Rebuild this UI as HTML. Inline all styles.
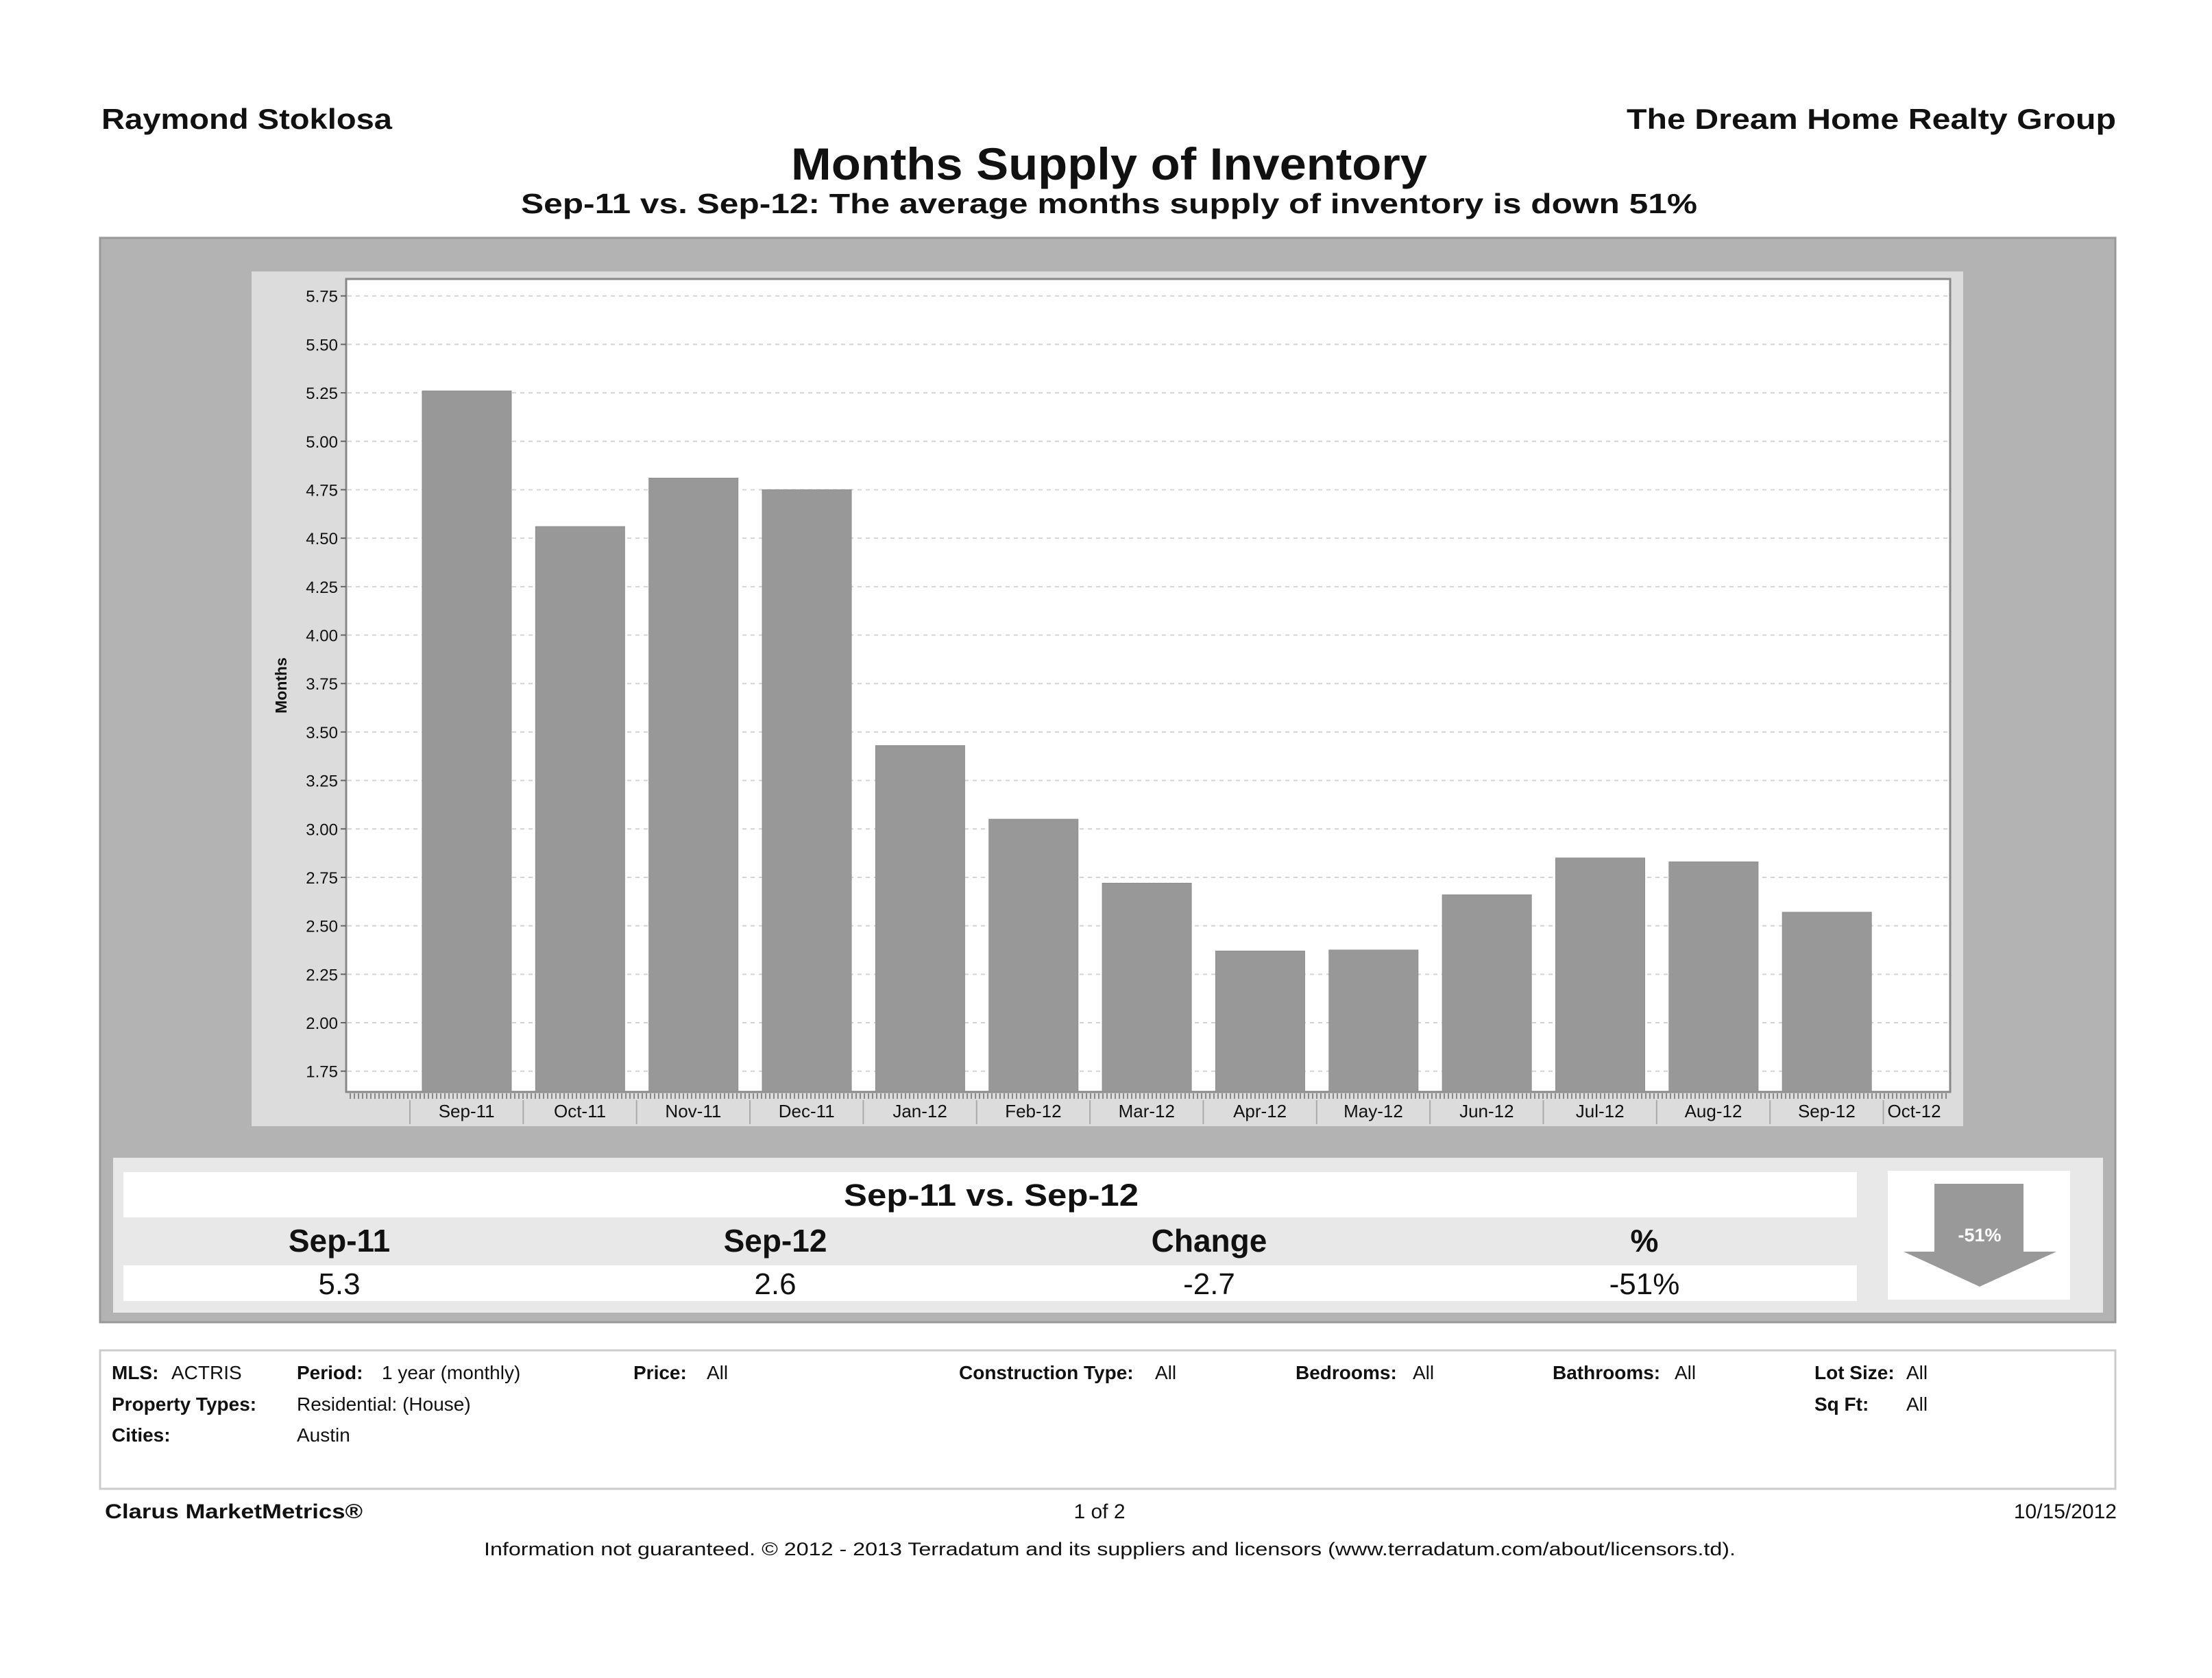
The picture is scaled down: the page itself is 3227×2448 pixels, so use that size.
<!DOCTYPE html>
<html><head><meta charset="utf-8"><style>
html,body{margin:0;padding:0;background:#fff;}
svg{display:block;font-family:"Liberation Sans",sans-serif;}
</style></head><body>
<svg id="page" width="3227" height="2448" viewBox="0 0 3227 2448" xmlns="http://www.w3.org/2000/svg">
<defs>
<pattern id="minor" x="0" y="0" width="6" height="10" patternUnits="userSpaceOnUse"><rect x="0" y="0" width="2" height="10" fill="#888"/></pattern>
</defs>
<text x="148" y="188" font-size="42" font-weight="bold" fill="#111" textLength="424" lengthAdjust="spacingAndGlyphs">Raymond Stoklosa</text>
<text x="2373" y="188" font-size="42" font-weight="bold" fill="#111" textLength="714" lengthAdjust="spacingAndGlyphs">The Dream Home Realty Group</text>
<text x="1154" y="262" font-size="66" font-weight="bold" fill="#111" textLength="928" lengthAdjust="spacingAndGlyphs">Months Supply of Inventory</text>
<text x="760" y="311" font-size="41" font-weight="bold" fill="#111" textLength="1716" lengthAdjust="spacingAndGlyphs">Sep-11 vs. Sep-12:  The average months supply of inventory is down 51%</text>

<rect x="146" y="347" width="2940" height="1582" fill="#b3b3b3" stroke="#999" stroke-width="3"/>
<rect x="367" y="396" width="2497" height="1247" fill="#dcdcdc"/>
<rect x="505" y="407" width="2340" height="1186" fill="#fff" stroke="#888" stroke-width="3"/>
<g id="grid"></g>
<g id="bars"></g>
<rect x="507" y="1595" width="2336" height="8" fill="url(#minor)"/>
<g id="yticks"></g>
<g id="xticks"></g>
<text transform="translate(418,1000) rotate(-90)" font-size="23" font-weight="bold" text-anchor="middle" fill="#111">Months</text>

<rect x="165" y="1689" width="2903" height="226" fill="#e8e8e8"/>
<rect x="180" y="1710" width="2529" height="66" fill="#fff"/>
<rect x="180" y="1846" width="2529" height="52" fill="#fff"/>
<text x="1231" y="1759" font-size="45" font-weight="bold" fill="#111" textLength="430" lengthAdjust="spacingAndGlyphs">Sep-11 vs. Sep-12</text>
<g font-size="46" font-weight="bold" text-anchor="middle" fill="#111">
<text x="495" y="1826">Sep-11</text>
<text x="1131" y="1826">Sep-12</text>
<text x="1764" y="1826">Change</text>
<text x="2399" y="1826">%</text>
</g>
<g font-size="44" text-anchor="middle" fill="#111">
<text x="495" y="1888">5.3</text>
<text x="1131" y="1888">2.6</text>
<text x="1764" y="1888">-2.7</text>
<text x="2399" y="1888">-51%</text>
</g>
<rect x="2754" y="1708" width="266" height="188" fill="#fff"/>
<polygon points="2822,1727 2952,1727 2952,1826 3000,1826 2888,1877 2777,1826 2822,1826" fill="#999"/>
<text x="2888" y="1811" font-size="27" font-weight="bold" fill="#fff" text-anchor="middle">-51%</text>

<rect x="146" y="1970" width="2940" height="202" fill="#fff" stroke="#ccc" stroke-width="3"/>
<g font-size="28" fill="#111">
<text x="163" y="2012" font-weight="bold">MLS:</text><text x="250" y="2012">ACTRIS</text>
<text x="433" y="2012" font-weight="bold">Period:</text><text x="557" y="2012">1 year (monthly)</text>
<text x="924" y="2012" font-weight="bold">Price:</text><text x="1031" y="2012">All</text>
<text x="1399" y="2012" font-weight="bold">Construction Type:</text><text x="1685" y="2012">All</text>
<text x="1890" y="2012" font-weight="bold">Bedrooms:</text><text x="2061" y="2012">All</text>
<text x="2265" y="2012" font-weight="bold">Bathrooms:</text><text x="2443" y="2012">All</text>
<text x="2647" y="2012" font-weight="bold">Lot Size:</text><text x="2781" y="2012">All</text>
<text x="163" y="2058" font-weight="bold">Property Types:</text><text x="433" y="2058">Residential: (House)</text>
<text x="2647" y="2058" font-weight="bold">Sq Ft:</text><text x="2781" y="2058">All</text>
<text x="163" y="2103" font-weight="bold">Cities:</text><text x="433" y="2103">Austin</text>
</g>
<text x="153" y="2215" font-size="30" font-weight="bold" fill="#111" textLength="376" lengthAdjust="spacingAndGlyphs">Clarus MarketMetrics®</text>
<text x="1604" y="2215" font-size="30" fill="#111" text-anchor="middle">1 of 2</text>
<text x="3088" y="2215" font-size="30" fill="#111" text-anchor="end">10/15/2012</text>
<text x="706" y="2269" font-size="27" fill="#111" textLength="1826" lengthAdjust="spacingAndGlyphs">Information not guaranteed.  © 2012 - 2013 Terradatum and its suppliers and licensors (www.terradatum.com/about/licensors.td).</text>
</svg>
<script>
const categories = ["Sep-11","Oct-11","Nov-11","Dec-11","Jan-12","Feb-12","Mar-12","Apr-12","May-12","Jun-12","Jul-12","Aug-12","Sep-12","Oct-12"];
const supplyValues = [5.26,4.56,4.81,4.75,3.43,3.05,2.72,2.37,2.375,2.66,2.85,2.83,2.57];
const yTickLabels = ["1.75","2.00","2.25","2.50","2.75","3.00","3.25","3.50","3.75","4.00","4.25","4.50","4.75","5.00","5.25","5.50","5.75"];
const NS="http://www.w3.org/2000/svg";
const plotLeft=505, plotRight=2845, plotBottom=1593;
function yScale(v){return 1562.7-(v-1.75)*282.75;}
const bandW=165.35;
function xBand(i){return 598+i*bandW;}
function mk(tag,attrs,parent){const e=document.createElementNS(NS,tag);for(const k in attrs)e.setAttribute(k,attrs[k]);parent.appendChild(e);return e;}
const grid=document.getElementById('grid'),bars=document.getElementById('bars'),yt=document.getElementById('yticks'),xt=document.getElementById('xticks');
yTickLabels.forEach(function(lbl){
  const y=yScale(parseFloat(lbl));
  const g=mk('line',{x1:plotLeft+2,x2:plotRight-2,y1:y,y2:y,stroke:'#d4d4d4','stroke-width':2,'stroke-dasharray':'6,6'},grid);
  
  
  const t=mk('line',{x1:plotLeft-8,x2:plotLeft,y1:y,y2:y,stroke:'#666','stroke-width':2},yt);
  
  
  const tx=mk('text',{x:493,y:y+9,'font-size':24,'text-anchor':'end',fill:'#111'},yt);
  tx.textContent=lbl;
  
  
});
supplyValues.forEach(function(v,i){
  const x=xBand(i)+18, y=yScale(v);
  const r=mk('rect',{x:x,y:y,width:130,height:plotBottom-y,fill:'#989898',stroke:'#8e8e8e','stroke-width':1},bars);
  
  
});
categories.forEach(function(c,i){
  const x0=xBand(i);
  const d=mk('line',{x1:x0,x2:x0,y1:1605,y2:1640,stroke:'#aaa','stroke-width':2},xt);
  
  
  const cx=(i===categories.length-1)?x0+45:x0+bandW/2;
  const t=mk('text',{x:cx,y:1630,'font-size':26,'text-anchor':'middle',fill:'#111'},xt);
  t.textContent=c;
  
  
});
</script>
</body></html>
